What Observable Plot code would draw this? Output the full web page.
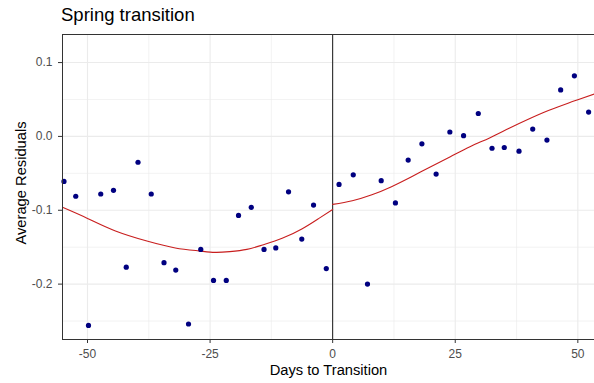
<!DOCTYPE html>
<html>
<head>
<meta charset="utf-8">
<script src="https://cdn.jsdelivr.net/npm/d3@7"></script>
<script src="https://cdn.jsdelivr.net/npm/@observablehq/plot@0.6"></script>
<style>
  html, body { margin: 0; padding: 0; background: #fff; }
  #wrap { width: 594px; height: 383px; overflow: hidden; font-family: "Liberation Sans", Arial, sans-serif; }
  #title { height: 28px; box-sizing: border-box; padding-left: 61px; padding-top: 5px; font-size: 18.5px; line-height: 20px; color: #000; white-space: nowrap; }
  svg { display: block; }
</style>
</head>
<body>
<div id="wrap">
  <div id="title">Spring transition</div>
  <div id="chart"></div>
</div>
<script>
const days = [-54.8,-52.4,-49.8,-47.3,-44.7,-42.1,-39.7,-37.0,-34.4,-32.0,-29.4,-26.9,-24.3,-21.7,-19.2,-16.6,-14.0,-11.6,-9.0,-6.3,-3.9,-1.3,1.3,4.2,7.1,9.9,12.8,15.4,18.2,21.1,23.9,26.7,29.7,32.5,35.0,38.0,40.8,43.7,46.5,49.3,52.2];
const residuals = [-0.061,-0.081,-0.256,-0.078,-0.073,-0.177,-0.035,-0.078,-0.171,-0.181,-0.254,-0.153,-0.195,-0.195,-0.107,-0.096,-0.153,-0.151,-0.075,-0.139,-0.093,-0.179,-0.065,-0.052,-0.200,-0.060,-0.090,-0.032,-0.010,-0.051,0.006,0.001,0.031,-0.016,-0.015,-0.020,0.010,-0.005,0.063,0.082,0.033];

// smoothed trend (before / after transition)
const preCurveDays = [-55.1,-50,-44.3,-37.7,-32.1,-27.3,-24,-21,-17.5,-14.3,-10.3,-6.2,-2.8,0];
const preCurveVals = [-0.096,-0.111,-0.128,-0.142,-0.151,-0.155,-0.157,-0.156,-0.153,-0.147,-0.138,-0.125,-0.111,-0.099];
const postCurveDays = [0,4,8,12,16,20,24,28,32,36,40,44,48,50,53.5];
const postCurveVals = [-0.092,-0.087,-0.079,-0.068,-0.055,-0.041,-0.0275,-0.014,-0.002,0.011,0.0235,0.035,0.045,0.0497,0.0578];

const xTicks = [-50,-25,0,25,50];
const xMinor = [-37.5,-12.5,12.5,37.5];
const yTicks = [-0.2,-0.1,0.0,0.1];
const yMinor = [-0.25,-0.15,-0.05,0.05];

const points = days.map((d,i) => ({day: d, value: residuals[i]}));
const pre = preCurveDays.map((d,i) => ({day: d, value: preCurveVals[i]}));
const post = postCurveDays.map((d,i) => ({day: d, value: postCurveVals[i]}));

const chart = Plot.plot({
  width: 594,
  height: 355,
  marginTop: 6,
  marginBottom: 44,
  marginLeft: 62,
  marginRight: 0,
  style: {fontFamily: '"Liberation Sans", Arial, sans-serif', background: "#fff"},
  x: {domain: [-55.1, 53.4]},
  y: {domain: [-0.275, 0.138]},
  marks: [
    Plot.gridX(xMinor, {stroke: "#ebebeb", strokeOpacity: 1, strokeWidth: 0.6}),
    Plot.gridY(yMinor, {stroke: "#ebebeb", strokeOpacity: 1, strokeWidth: 0.6}),
    Plot.gridX(xTicks, {stroke: "#ebebeb", strokeOpacity: 1, strokeWidth: 1.1}),
    Plot.gridY(yTicks, {stroke: "#ebebeb", strokeOpacity: 1, strokeWidth: 1.1}),
    Plot.ruleX([0], {stroke: "#1a1a1a", strokeWidth: 1}),
    Plot.line(pre, {x: "day", y: "value", stroke: "#c81e1e", strokeWidth: 1.1, curve: "natural", clip: true}),
    Plot.line(post, {x: "day", y: "value", stroke: "#c81e1e", strokeWidth: 1.1, curve: "natural", clip: true}),
    Plot.dot(points, {x: "day", y: "value", r: 2.6, fill: "#000080", stroke: "none"}),
    Plot.frame({stroke: "#333", strokeWidth: 1}),
    Plot.axisX(xTicks, {tickSize: 4, tickPadding: 6, fontSize: 12, stroke: "#333", color: "#4d4d4d", tickFormat: d => String(d), label: null}),
    Plot.axisY(yTicks, {tickSize: 4, tickPadding: 6, fontSize: 12, stroke: "#333", color: "#4d4d4d", tickFormat: d => d.toFixed(1), label: null}),
    Plot.text(["Days to Transition"], {frameAnchor: "bottom", dy: 31, fontSize: 14.7, fill: "#000", lineAnchor: "middle", textAnchor: "middle"}),
    Plot.text(["Average Residuals"], {frameAnchor: "left", dx: -41, dy: -4, rotate: -90, fontSize: 14.7, fill: "#000", lineAnchor: "middle", textAnchor: "middle"})
  ]
});
document.getElementById("chart").appendChild(chart);
</script>
</body>
</html>
